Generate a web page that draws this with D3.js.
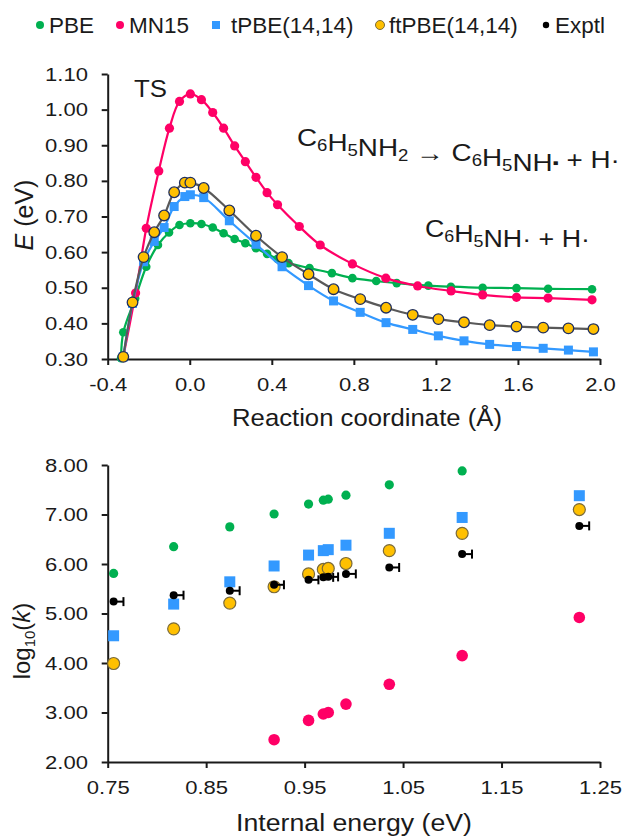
<!DOCTYPE html>
<html>
<head>
<meta charset="utf-8">
<script src="https://cdn.jsdelivr.net/npm/d3@7"></script>
<style>
  body { margin: 0; background: #fff; }
  svg { font-family: "Liberation Sans", Arial, sans-serif; }
</style>
</head>
<body>
<svg id="chart" width="624" height="838"></svg>
<script>
// ---- top panel: energy along the reaction coordinate ----
const pbeX = [-0.335, -0.324, -0.266, -0.212, -0.155, -0.101, -0.050, 0.003, 0.057, 0.112, 0.165, 0.219, 0.271, 0.323, 0.377, 0.428, 0.482, 0.584, 0.693, 0.793, 0.909, 1.009, 1.163, 1.273, 1.428, 1.593, 1.747, 1.961];
const pbeE = [0.302, 0.375, 0.470, 0.559, 0.620, 0.655, 0.676, 0.681, 0.679, 0.669, 0.653, 0.637, 0.625, 0.611, 0.595, 0.581, 0.569, 0.555, 0.541, 0.527, 0.519, 0.513, 0.506, 0.503, 0.500, 0.499, 0.497, 0.496];

const mn15X = [-0.324, -0.264, -0.212, -0.151, -0.099, -0.050, 0.003, 0.057, 0.112, 0.165, 0.219, 0.271, 0.323, 0.377, 0.428, 0.534, 0.636, 0.793, 0.956, 1.111, 1.274, 1.428, 1.593, 1.747, 1.961];
const mn15E = [0.306, 0.485, 0.667, 0.828, 0.948, 1.023, 1.044, 1.028, 0.992, 0.948, 0.898, 0.854, 0.810, 0.767, 0.733, 0.672, 0.620, 0.567, 0.527, 0.505, 0.491, 0.480, 0.473, 0.471, 0.466];

const tpbeX = [-0.324, -0.279, -0.225, -0.173, -0.125, -0.076, -0.024, 0.003, 0.068, 0.193, 0.323, 0.450, 0.579, 0.701, 0.831, 0.957, 1.087, 1.212, 1.337, 1.462, 1.593, 1.723, 1.846, 1.968];
const tpbeE = [0.306, 0.456, 0.573, 0.630, 0.669, 0.728, 0.756, 0.761, 0.753, 0.688, 0.622, 0.559, 0.506, 0.463, 0.431, 0.402, 0.383, 0.365, 0.351, 0.341, 0.335, 0.330, 0.325, 0.320];
const ftpbeE = [0.306, 0.459, 0.586, 0.656, 0.703, 0.768, 0.795, 0.795, 0.780, 0.717, 0.646, 0.586, 0.538, 0.496, 0.468, 0.444, 0.424, 0.412, 0.403, 0.395, 0.391, 0.388, 0.386, 0.384];

const topXTicks = [-0.4, 0.0, 0.4, 0.8, 1.2, 1.6, 2.0];
const topYTicks = [0.3, 0.4, 0.5, 0.6, 0.7, 0.8, 0.9, 1.0, 1.1];

// ---- bottom panel: log10(k) vs internal energy ----
const internalEnergy = [0.756, 0.817, 0.874, 0.919, 0.954, 0.969, 0.974, 0.992, 1.036, 1.110, 1.229];
const pbeLogK   = [5.81, 6.35, 6.75, 7.01, 7.21, 7.29, 7.31, 7.39, 7.60, 7.88, null];
const mn15LogK  = [null, null, null, 2.45, 2.84, 2.97, 3.00, 3.17, 3.57, 4.15, 4.92];
const tpbeLogK  = [4.55, 5.19, 5.64, 5.96, 6.18, 6.27, 6.29, 6.38, 6.62, 6.94, 7.38];
const ftpbeLogK = [3.99, 4.69, 5.21, 5.54, 5.80, 5.89, 5.91, 6.01, 6.27, 6.62, 7.10];
const exptlLogK = [5.24, 5.37, 5.46, 5.58, 5.68, 5.73, 5.74, 5.80, 5.93, 6.20, 6.77];
const exptlErr = 0.01;

const botXTicks = [0.75, 0.85, 0.95, 1.05, 1.15, 1.25];
const botYTicks = [2, 3, 4, 5, 6, 7, 8];

const green = '#00B050', pink = '#FF0066', blue = '#3399FF', orange = '#FFC000';

const svg = d3.select('#chart');
const tickFont = 19, tickStretch = 1.16;

// stretch a text element to a given width around its anchor point
const fitText = (t, x, y, w) => {
  const bw = t.node().getBBox().width;
  t.attr('transform', `translate(${x},${y}) scale(${w / bw},1)`);
};

const styleAxis = (g) => {
  g.select('.domain').attr('stroke', '#1a1a1a').attr('stroke-width', 2);
  g.selectAll('.tick line').attr('stroke', '#1a1a1a').attr('stroke-width', 2);
  g.selectAll('.tick text')
    .attr('font-size', tickFont)
    .attr('font-family', '"Liberation Sans", Arial, sans-serif')
    .attr('fill', '#1a1a1a')
    .attr('transform', `scale(${tickStretch},1)`);
};

// ================= TOP =================
const topBox = { left: 107.7, right: 600, top: 74, bottom: 359 };
const xTop = d3.scaleLinear().domain([-0.4, 2.0]).range([topBox.left, topBox.right]);
const yTop = d3.scaleLinear().domain([0.3, 1.1]).range([topBox.bottom, topBox.top]);

const gTop = svg.append('g');
gTop.append('g')
  .attr('transform', `translate(0,${topBox.bottom})`)
  .call(d3.axisBottom(xTop).tickValues(topXTicks).tickSize(6).tickSizeOuter(0).tickPadding(13)
    .tickFormat(d => d.toFixed(1)))
  .call(styleAxis);
gTop.append('g')
  .attr('transform', `translate(${topBox.left},0)`)
  .call(d3.axisLeft(yTop).tickValues(topYTicks).tickSize(6).tickSizeOuter(0).tickPadding(11)
    .tickFormat(d => d.toFixed(2)))
  .call(styleAxis);

const topSeries = [
  { x: pbeX, y: pbeE, line: green, fill: green, stroke: 'none', shape: 'circle', r: 4.3 },
  { x: mn15X, y: mn15E, line: pink, fill: pink, stroke: 'none', shape: 'circle', r: 4.6 },
  { x: tpbeX, y: tpbeE, line: blue, fill: blue, stroke: 'none', shape: 'square', r: 4.5 },
  { x: tpbeX, y: ftpbeE, line: '#595959', fill: orange, stroke: '#1F2F5F', shape: 'circle', r: 5.3 }
];

const curve = d3.line().curve(d3.curveCatmullRom.alpha(0.5));
topSeries.forEach(s => {
  const pts = s.x.map((x, i) => [xTop(x), yTop(s.y[i])]);
  gTop.append('path')
    .attr('d', curve(pts))
    .attr('fill', 'none')
    .attr('stroke', s.line)
    .attr('stroke-width', 2.2);
  if (s.shape === 'circle') {
    gTop.append('g').selectAll('circle').data(pts).enter().append('circle')
      .attr('cx', d => d[0]).attr('cy', d => d[1]).attr('r', s.r)
      .attr('fill', s.fill).attr('stroke', s.stroke).attr('stroke-width', 1.3);
  } else {
    gTop.append('g').selectAll('rect').data(pts).enter().append('rect')
      .attr('x', d => d[0] - s.r).attr('y', d => d[1] - s.r)
      .attr('width', 2 * s.r).attr('height', 2 * s.r)
      .attr('fill', s.fill);
  }
});

// titles and notes of top panel
const xTitleTop = svg.append('text').attr('text-anchor', 'middle').attr('font-size', 24).attr('fill', '#1a1a1a')
  .text('Reaction coordinate (Å)');
fitText(xTitleTop, 367, 426, 270);

const yTitleTop = svg.append('text').attr('text-anchor', 'middle').attr('font-size', 25).attr('fill', '#1a1a1a')
  .attr('transform', 'translate(33,215) rotate(-90)');
yTitleTop.append('tspan').attr('font-style', 'italic').text('E');
yTitleTop.append('tspan').text(' (eV)');

const ts = svg.append('text').attr('font-size', 23).attr('fill', '#1a1a1a').text('TS');
fitText(ts, 134, 97, 33);

const addFormula = (parts, x, y, w) => {
  const t = svg.append('text').attr('font-size', 24).attr('fill', '#1a1a1a');
  parts.forEach(p => {
    if (p.sub) {
      t.append('tspan').attr('font-size', 16).attr('dy', 5).text(p.sub);
      t.append('tspan').attr('dy', -5).text('');
    } else if (p.dot) {
      t.append('tspan').attr('font-size', 15).attr('dy', -3).text(p.dot);
      t.append('tspan').attr('dy', 3).text('');
    } else {
      t.append('tspan').text(p.t);
    }
  });
  fitText(t, x, y, w);
};

addFormula([{ t: 'C' }, { sub: '6' }, { t: 'H' }, { sub: '5' }, { t: 'NH' }, { sub: '2' },
  { t: ' → C' }, { sub: '6' }, { t: 'H' }, { sub: '5' }, { t: 'NH' }, { dot: '▪' }, { t: ' + H·' }], 297, 146, 323);
addFormula([{ t: 'C' }, { sub: '6' }, { t: 'H' }, { sub: '5' }, { t: 'NH· + H·' }], 425, 237, 165);

// ================= BOTTOM =================
const botBox = { left: 107.7, right: 600, top: 465, bottom: 762 };
const xBot = d3.scaleLinear().domain([0.75, 1.25]).range([botBox.left, botBox.right]);
const yBot = d3.scaleLinear().domain([2, 8]).range([botBox.bottom, botBox.top]);

const gBot = svg.append('g');
gBot.append('g')
  .attr('transform', `translate(0,${botBox.bottom})`)
  .call(d3.axisBottom(xBot).tickValues(botXTicks).tickSize(6).tickSizeOuter(0).tickPadding(13)
    .tickFormat(d => d.toFixed(2)))
  .call(styleAxis);
gBot.append('g')
  .attr('transform', `translate(${botBox.left},0)`)
  .call(d3.axisLeft(yBot).tickValues(botYTicks).tickSize(6).tickSizeOuter(0).tickPadding(11)
    .tickFormat(d => d.toFixed(2)))
  .call(styleAxis);

const pairs = vals => internalEnergy.map((e, i) => [e, vals[i]]).filter(d => d[1] !== null);

gBot.append('g').selectAll('circle').data(pairs(pbeLogK)).enter().append('circle')
  .attr('cx', d => xBot(d[0])).attr('cy', d => yBot(d[1])).attr('r', 4.6).attr('fill', green);
gBot.append('g').selectAll('circle').data(pairs(mn15LogK)).enter().append('circle')
  .attr('cx', d => xBot(d[0])).attr('cy', d => yBot(d[1])).attr('r', 5.8).attr('fill', pink);
gBot.append('g').selectAll('rect').data(pairs(tpbeLogK)).enter().append('rect')
  .attr('x', d => xBot(d[0]) - 5.5).attr('y', d => yBot(d[1]) - 5.5)
  .attr('width', 11).attr('height', 11).attr('fill', blue);
gBot.append('g').selectAll('circle').data(pairs(ftpbeLogK)).enter().append('circle')
  .attr('cx', d => xBot(d[0])).attr('cy', d => yBot(d[1])).attr('r', 6)
  .attr('fill', orange).attr('stroke', '#7a6a3a').attr('stroke-width', 1.2);

const expG = gBot.append('g');
const expPts = pairs(exptlLogK);
expG.selectAll('line.bar').data(expPts).enter().append('line')
  .attr('x1', d => xBot(d[0])).attr('x2', d => xBot(d[0] + exptlErr))
  .attr('y1', d => yBot(d[1])).attr('y2', d => yBot(d[1]))
  .attr('stroke', '#000').attr('stroke-width', 2);
expG.selectAll('line.cap').data(expPts).enter().append('line')
  .attr('x1', d => xBot(d[0] + exptlErr)).attr('x2', d => xBot(d[0] + exptlErr))
  .attr('y1', d => yBot(d[1]) - 4.5).attr('y2', d => yBot(d[1]) + 4.5)
  .attr('stroke', '#000').attr('stroke-width', 2);
expG.selectAll('circle').data(expPts).enter().append('circle')
  .attr('cx', d => xBot(d[0])).attr('cy', d => yBot(d[1])).attr('r', 4).attr('fill', '#000');

const xTitleBot = svg.append('text').attr('text-anchor', 'middle').attr('font-size', 24).attr('fill', '#1a1a1a')
  .text('Internal energy (eV)');
fitText(xTitleBot, 354, 831, 236);

const yTitleBot = svg.append('text').attr('text-anchor', 'middle').attr('font-size', 24).attr('fill', '#1a1a1a')
  .attr('transform', 'translate(30,641) rotate(-90)');
yTitleBot.append('tspan').text('log');
yTitleBot.append('tspan').attr('font-size', 15).attr('dy', 5).text('10');
yTitleBot.append('tspan').attr('dy', -5).text('(');
yTitleBot.append('tspan').attr('font-style', 'italic').text('k');
yTitleBot.append('tspan').text(')');

// ================= LEGEND =================
const legendNames = ['PBE', 'MN15', 'tPBE(14,14)', 'ftPBE(14,14)', 'Exptl'];
const legendX = [40, 120, 216, 380, 546];
const legend = svg.append('g');
legendNames.forEach((name, i) => {
  const cx = legendX[i], cy = 25;
  if (i === 0) legend.append('circle').attr('cx', cx).attr('cy', cy).attr('r', 4).attr('fill', green);
  if (i === 1) legend.append('circle').attr('cx', cx).attr('cy', cy).attr('r', 4).attr('fill', pink);
  if (i === 2) legend.append('rect').attr('x', cx - 4).attr('y', cy - 4).attr('width', 8).attr('height', 8).attr('fill', blue);
  if (i === 3) legend.append('circle').attr('cx', cx).attr('cy', cy).attr('r', 4.5).attr('fill', orange)
    .attr('stroke', '#7a6a3a').attr('stroke-width', 1);
  if (i === 4) legend.append('circle').attr('cx', cx).attr('cy', cy).attr('r', 3.2).attr('fill', '#000');
  legend.append('text').attr('x', cx + (i === 2 ? 15 : 9)).attr('y', cy + 8)
    .attr('font-size', 22.5).attr('fill', '#1a1a1a').text(name);
});
</script>
</body>
</html>
